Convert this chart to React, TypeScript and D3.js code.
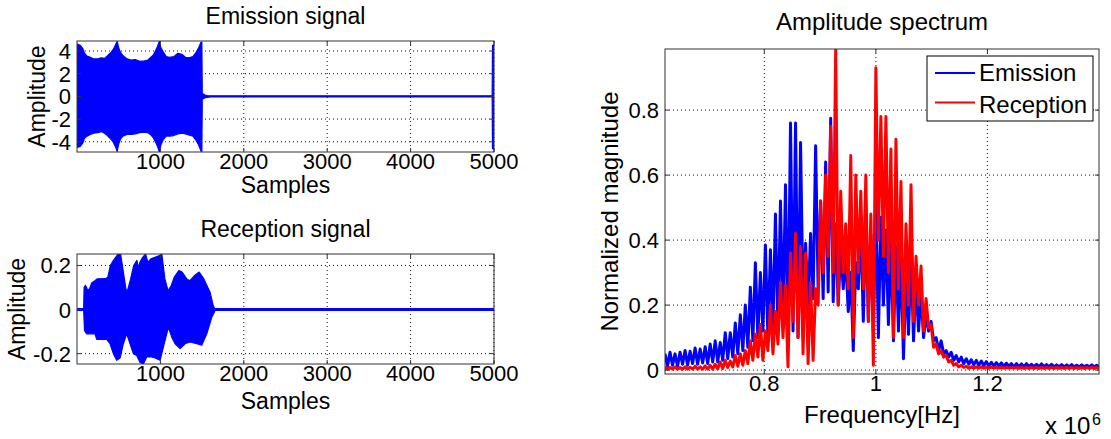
import React from 'react';
import * as d3 from 'd3';

// ---------- Emission signal envelope (samples, upper & lower amplitude) ----------
const emissionSamples = [1, 40, 70, 90, 120, 160, 200, 250, 290, 330, 370, 410, 440, 465, 482, 500, 520, 550, 600, 650, 700, 750, 800, 850, 880, 910, 940, 965, 987, 1005, 1035, 1070, 1110, 1160, 1210, 1260, 1300, 1340, 1390, 1430, 1460, 1485, 1497, 1502, 1515, 1535, 1560, 1600, 4978, 4982, 5000];
const emissionUpper = [4.6, 4.5, 4.2, 3.8, 3.55, 3.45, 3.3, 3.3, 3.4, 3.35, 3.6, 3.9, 4.2, 4.6, 4.85, 4.3, 3.9, 3.6, 3.3, 3.2, 3.25, 3.1, 3.1, 3.2, 3.4, 3.6, 4.0, 4.4, 4.85, 4.3, 3.9, 3.5, 3.45, 3.5, 3.8, 3.7, 3.45, 3.4, 3.5, 3.9, 4.3, 4.75, 4.8, 0.25, 0.2, 0.12, 0.08, 0.05, 0.05, 4.5, 4.5];
const emissionLower = [-4.5, -4.4, -4.1, -3.7, -3.5, -3.35, -3.25, -3.2, -3.1, -3.25, -3.5, -3.8, -4.1, -4.5, -4.85, -4.2, -3.8, -3.5, -3.35, -3.35, -3.3, -3.2, -3.15, -3.2, -3.35, -3.6, -4.0, -4.4, -4.9, -4.3, -3.8, -3.5, -3.5, -3.45, -3.3, -3.25, -3.3, -3.4, -3.5, -3.9, -4.3, -4.8, -4.85, -0.25, -0.2, -0.12, -0.08, -0.05, -0.05, -4.6, -4.6];

// ---------- Reception signal envelope ----------
const receptionUpperSamples = [1, 80, 85, 100, 115, 125, 150, 175, 210, 240, 340, 370, 400, 437, 470, 493, 523, 550, 587, 605, 643, 680, 718, 735, 755, 790, 822, 849, 886, 942, 998, 1017, 1054, 1092, 1129, 1166, 1222, 1260, 1316, 1353, 1409, 1465, 1521, 1559, 1596, 1634, 1652, 5000];
const receptionUpper = [0.004, 0.004, 0.1, 0.11, 0.1, 0.09, 0.093, 0.12, 0.13, 0.139, 0.14, 0.147, 0.2, 0.223, 0.24, 0.252, 0.252, 0.185, 0.093, 0.085, 0.139, 0.2, 0.223, 0.19, 0.215, 0.238, 0.252, 0.215, 0.23, 0.238, 0.246, 0.252, 0.139, 0.085, 0.108, 0.147, 0.177, 0.17, 0.139, 0.131, 0.154, 0.17, 0.139, 0.108, 0.078, 0.017, 0.004, 0.004];
const receptionLowerSamples = [1, 80, 90, 116, 216, 236, 356, 396, 436, 476, 516, 556, 596, 636, 676, 716, 756, 796, 836, 896, 936, 996, 1036, 1096, 1136, 1176, 1236, 1296, 1356, 1436, 1496, 1556, 1616, 1656, 5000];
const receptionLower = [-0.004, -0.004, -0.095, -0.11, -0.11, -0.135, -0.135, -0.155, -0.2, -0.23, -0.22, -0.155, -0.11, -0.155, -0.2, -0.208, -0.24, -0.247, -0.215, -0.215, -0.22, -0.23, -0.17, -0.08, -0.125, -0.155, -0.177, -0.155, -0.147, -0.155, -0.162, -0.11, -0.035, -0.004, -0.004];

// ---------- Amplitude spectrum (FFT bin grid, alternating peak / trough bins) ----------
const specStartHz = 0.622e6;
const specHalfStepHz = 0.0045e6;
const emissionPeaks = [
  0.05, 0.055, 0.05, 0.055, 0.06, 0.058, 0.068, 0.065, 0.072, 0.08,
  0.09, 0.085, 0.115, 0.115, 0.145, 0.17, 0.2, 0.255, 0.33, 0.3,
  0.385, 0.37, 0.48, 0.52, 0.57, 0.76, 0.76, 0.7, 0.39, 0.42,
  0.69, 0.52, 0.64, 0.775, 0.45, 0.38, 0.35, 0.3, 0.33, 0.45,
  0.48, 0.42, 0.53, 0.47, 0.43, 0.4, 0.38, 0.36, 0.3, 0.37,
  0.28, 0.24, 0.17, 0.15, 0.1, 0.09, 0.06, 0.055, 0.045, 0.04,
  0.035, 0.032, 0.03, 0.028, 0.026, 0.024, 0.023, 0.022, 0.021, 0.02,
  0.02, 0.019, 0.02, 0.018, 0.018, 0.019, 0.017, 0.018, 0.016, 0.017,
  0.016, 0.017, 0.015, 0.016, 0.015, 0.016, 0.015,
];
const emissionTroughs = [
  0.012, 0.015, 0.012, 0.018, 0.015, 0.02, 0.018, 0.022, 0.02, 0.025,
  0.025, 0.03, 0.035, 0.04, 0.05, 0.06, 0.07, 0.09, 0.1, 0.12,
  0.1, 0.13, 0.12, 0.15, 0.1, 0.12, 0.1, 0.2, 0.2, 0.22,
  0.25, 0.22, 0.24, 0.21, 0.2, 0.25, 0.18, 0.06, 0.25, 0.15,
  0.15, 0.12, 0.1, 0.2, 0.14, 0.09, 0.12, 0.035, 0.11, 0.09,
  0.12, 0.1, 0.12, 0.09, 0.06, 0.05, 0.04, 0.03, 0.025, 0.02,
  0.018, 0.016, 0.015, 0.014, 0.013, 0.012, 0.012, 0.011, 0.011, 0.01,
  0.01, 0.01, 0.01, 0.01, 0.01, 0.01, 0.01, 0.01, 0.01, 0.01,
  0.01, 0.01, 0.01, 0.01, 0.01, 0.01, 0.01,
];
const receptionPeaks = [
  0.01, 0.008, 0.01, 0.008, 0.01, 0.009, 0.012, 0.01, 0.013, 0.015,
  0.018, 0.025, 0.03, 0.028, 0.045, 0.05, 0.06, 0.09, 0.11, 0.14,
  0.12, 0.2, 0.18, 0.27, 0.26, 0.36, 0.42, 0.38, 0.36, 0.27,
  0.25, 0.52, 0.6, 0.75, 0.99, 0.55, 0.45, 0.66, 0.6, 0.55,
  0.6, 0.48, 0.93, 0.78, 0.78, 0.68, 0.71, 0.58, 0.45, 0.57,
  0.35, 0.32, 0.22, 0.14, 0.08, 0.06, 0.045, 0.03, 0.02, 0.015,
  0.012, 0.01, 0.01, 0.01, 0.009, 0.009, 0.008, 0.008, 0.008, 0.008,
  0.008, 0.008, 0.008, 0.008, 0.008, 0.008, 0.008, 0.008, 0.008, 0.008,
  0.008, 0.008, 0.008, 0.008, 0.008, 0.008, 0.008,
];
const receptionTroughs = [
  0.003, 0.003, 0.003, 0.003, 0.003, 0.003, 0.003, 0.003, 0.003, 0.003,
  0.004, 0.005, 0.008, 0.01, 0.012, 0.015, 0.02, 0.03, 0.04, 0.03,
  0.06, 0.05, 0.08, 0.1, 0.01, 0.15, 0.1, 0.05, 0.02, 0.03,
  0.2, 0.3, 0.35, 0.3, 0.2, 0.3, 0.25, 0.1, 0.3, 0.25,
  0.15, 0.015, 0.4, 0.35, 0.3, 0.1, 0.25, 0.1, 0.2, 0.15,
  0.2, 0.12, 0.13, 0.07, 0.05, 0.04, 0.025, 0.015, 0.01, 0.008,
  0.006, 0.006, 0.006, 0.006, 0.006, 0.006, 0.006, 0.006, 0.006, 0.006,
  0.005, 0.005, 0.005, 0.005, 0.005, 0.005, 0.005, 0.005, 0.005, 0.005,
  0.005, 0.005, 0.005, 0.005, 0.005, 0.005, 0.005,
];

// ---------- Ticks & labels ----------
const sampleTicks = [1000, 2000, 3000, 4000, 5000];
const emissionYTicks = [-4, -2, 0, 2, 4];
const receptionYTicks = [-0.2, 0, 0.2];
const freqTicks = [0.8e6, 1e6, 1.2e6];
const magTicks = [0, 0.2, 0.4, 0.6, 0.8];
const legendItems = [
  { name: 'Emission', color: '#0000ff' },
  { name: 'Reception', color: '#ff0000' },
];

const FONT = "'Liberation Sans', Arial, Helvetica, sans-serif";
const BOX = '#333';
const TICK_FS = 22;
const LEFT_FS = 23;
const RIGHT_FS = 24;

type Frame = { x0: number; x1: number; y0: number; y1: number };

function Grid({ f, xs, ys, xTicks, yTicks }: any) {
  return (
    <g>
      {xTicks.map((t: number, i: number) => (
        <line key={'gx' + i} x1={xs(t)} x2={xs(t)} y1={f.y0} y2={f.y1} stroke="#111" strokeWidth={1} strokeDasharray="1,3" />
      ))}
      {yTicks.map((t: number, i: number) => (
        <line key={'gy' + i} x1={f.x0} x2={f.x1} y1={ys(t)} y2={ys(t)} stroke="#111" strokeWidth={1} strokeDasharray="1,3" />
      ))}
    </g>
  );
}

function Frame({ f, xs, ys, xTicks, yTicks, xFmt, yFmt }: any) {
  const tl = 4;
  return (
    <g>
      <rect x={f.x0} y={f.y0} width={f.x1 - f.x0} height={f.y1 - f.y0} fill="none" stroke={BOX} strokeWidth={1} />
      {xTicks.map((t: number, i: number) => (
        <g key={'tx' + i}>
          <line x1={xs(t)} x2={xs(t)} y1={f.y1} y2={f.y1 - tl} stroke={BOX} />
          <line x1={xs(t)} x2={xs(t)} y1={f.y0} y2={f.y0 + tl} stroke={BOX} />
          <text x={xs(t)} y={f.y1 + 17} textAnchor="middle" fontSize={TICK_FS} fill="#000">{xFmt(t)}</text>
        </g>
      ))}
      {yTicks.map((t: number, i: number) => (
        <g key={'ty' + i}>
          <line x1={f.x0} x2={f.x0 + tl} y1={ys(t)} y2={ys(t)} stroke={BOX} />
          <line x1={f.x1} x2={f.x1 - tl} y1={ys(t)} y2={ys(t)} stroke={BOX} />
          <text x={f.x0 - 6} y={ys(t) + 8} textAnchor="end" fontSize={TICK_FS} fill="#000">{yFmt(t)}</text>
        </g>
      ))}
    </g>
  );
}

function envelopePath(xs: any, ys: any, upS: number[], upV: number[], loS: number[], loV: number[]) {
  const pts: [number, number][] = [];
  upS.forEach((s, i) => pts.push([xs(s), ys(upV[i])]));
  for (let i = loS.length - 1; i >= 0; i--) pts.push([xs(loS[i]), ys(loV[i])]);
  return (d3.line()(pts) || '') + 'Z';
}

function spectrumPoints(peaks: number[], troughs: number[]) {
  const pts: { f: number; v: number }[] = [];
  peaks.forEach((p, k) => {
    pts.push({ f: specStartHz + 2 * k * specHalfStepHz, v: p });
    pts.push({ f: specStartHz + (2 * k + 1) * specHalfStepHz, v: troughs[k] });
  });
  return pts;
}

const fmtNum = (v: number) => (v === 0 ? '0' : String(Math.round(v * 1000) / 1000));

export default function App() {
  const fE: Frame = { x0: 77, x1: 494, y0: 41, y1: 152 };
  const fR: Frame = { x0: 77, x1: 494, y0: 254, y1: 364 };
  const fS: Frame = { x0: 665, x1: 1099, y0: 49, y1: 374 };

  const xE = d3.scaleLinear().domain([0, 5000]).range([fE.x0, fE.x1]);
  const yE = d3.scaleLinear().domain([-4.9, 4.88]).range([fE.y1, fE.y0]);
  const xR = d3.scaleLinear().domain([0, 5000]).range([fR.x0, fR.x1]);
  const yR = d3.scaleLinear().domain([-0.247, 0.252]).range([fR.y1, fR.y0]);
  const xS = d3.scaleLinear().domain([0.622e6, 1.4e6]).range([fS.x0, fS.x1]);
  const yS = d3.scaleLinear().domain([-0.012, 0.988]).range([fS.y1, fS.y0]);

  const emPath = envelopePath(xE, yE, emissionSamples, emissionUpper, emissionSamples, emissionLower);
  const rcPath = envelopePath(xR, yR, receptionUpperSamples, receptionUpper, receptionLowerSamples, receptionLower);

  const specLine = d3.line<{ f: number; v: number }>().x(d => xS(d.f)).y(d => yS(d.v));
  const emSpec = specLine(spectrumPoints(emissionPeaks, emissionTroughs)) || '';
  const rcSpec = specLine(spectrumPoints(receptionPeaks, receptionTroughs)) || '';

  const lg = { x0: 927, y0: 56, x1: 1093, y1: 121 };

  return (
    <svg width={1111} height={439} style={{ position: 'absolute', left: 0, top: 0, background: '#fff' }} fontFamily={FONT}>
      <defs>
        <clipPath id="cE"><rect x={fE.x0} y={fE.y0} width={fE.x1 - fE.x0} height={fE.y1 - fE.y0} /></clipPath>
        <clipPath id="cR"><rect x={fR.x0} y={fR.y0} width={fR.x1 - fR.x0} height={fR.y1 - fR.y0} /></clipPath>
        <clipPath id="cS"><rect x={fS.x0} y={fS.y0} width={fS.x1 - fS.x0} height={fS.y1 - fS.y0} /></clipPath>
      </defs>
      <rect x={0} y={0} width={1111} height={439} fill="#fff" />

      {/* Emission signal */}
      <text x={(fE.x0 + fE.x1) / 2} y={23.5} textAnchor="middle" fontSize={LEFT_FS}>Emission signal</text>
      <Grid f={fE} xs={xE} ys={yE} xTicks={sampleTicks} yTicks={emissionYTicks} />
      <path d={emPath} fill="#0000ff" stroke="#0000ff" strokeWidth={1.2} strokeLinejoin="round" clipPath="url(#cE)" />
      <Frame f={fE} xs={xE} ys={yE} xTicks={sampleTicks} yTicks={emissionYTicks} xFmt={fmtNum} yFmt={fmtNum} />
      <text x={(fE.x0 + fE.x1) / 2} y={193} textAnchor="middle" fontSize={LEFT_FS}>Samples</text>
      <text transform={`translate(45,${(fE.y0 + fE.y1) / 2}) rotate(-90)`} textAnchor="middle" fontSize={LEFT_FS}>Amplitude</text>

      {/* Reception signal */}
      <text x={(fR.x0 + fR.x1) / 2} y={237} textAnchor="middle" fontSize={LEFT_FS}>Reception signal</text>
      <Grid f={fR} xs={xR} ys={yR} xTicks={sampleTicks} yTicks={receptionYTicks} />
      <path d={rcPath} fill="#0000ff" stroke="#0000ff" strokeWidth={1.2} strokeLinejoin="round" clipPath="url(#cR)" />
      <Frame f={fR} xs={xR} ys={yR} xTicks={sampleTicks} yTicks={receptionYTicks} xFmt={fmtNum} yFmt={fmtNum} />
      <text x={(fR.x0 + fR.x1) / 2} y={409} textAnchor="middle" fontSize={LEFT_FS}>Samples</text>
      <text transform={`translate(25,${(fR.y0 + fR.y1) / 2}) rotate(-90)`} textAnchor="middle" fontSize={LEFT_FS}>Amplitude</text>

      {/* Amplitude spectrum */}
      <text x={(fS.x0 + fS.x1) / 2} y={30} textAnchor="middle" fontSize={RIGHT_FS}>Amplitude spectrum</text>
      <Grid f={fS} xs={xS} ys={yS} xTicks={freqTicks} yTicks={magTicks} />
      <g clipPath="url(#cS)">
        <path d={emSpec} fill="none" stroke="#0000ff" strokeWidth={3} strokeLinejoin="round" />
        <path d={rcSpec} fill="none" stroke="#ff0000" strokeWidth={3} strokeLinejoin="round" />
      </g>
      <Frame f={fS} xs={xS} ys={yS} xTicks={freqTicks} yTicks={magTicks} xFmt={(v: number) => fmtNum(v / 1e6)} yFmt={fmtNum} />
      <text x={(fS.x0 + fS.x1) / 2} y={423} textAnchor="middle" fontSize={RIGHT_FS}>Frequency[Hz]</text>
      <text x={1045} y={434} fontSize={RIGHT_FS}>x 10</text>
      <text x={1092} y={425} fontSize={16}>6</text>
      <text transform={`translate(618,${(fS.y0 + fS.y1) / 2}) rotate(-90)`} textAnchor="middle" fontSize={RIGHT_FS}>Normalized magnitude</text>

      {/* Legend */}
      <rect x={lg.x0} y={lg.y0} width={lg.x1 - lg.x0} height={lg.y1 - lg.y0} fill="#fff" stroke="#000" strokeWidth={1} />
      {legendItems.map((it, i) => (
        <g key={it.name}>
          <line x1={935} x2={975} y1={73 + i * 29.5} y2={73 + i * 29.5} stroke={it.color} strokeWidth={2} />
          <text x={979} y={81 + i * 31.5} fontSize={RIGHT_FS}>{it.name}</text>
        </g>
      ))}
    </svg>
  );
}
